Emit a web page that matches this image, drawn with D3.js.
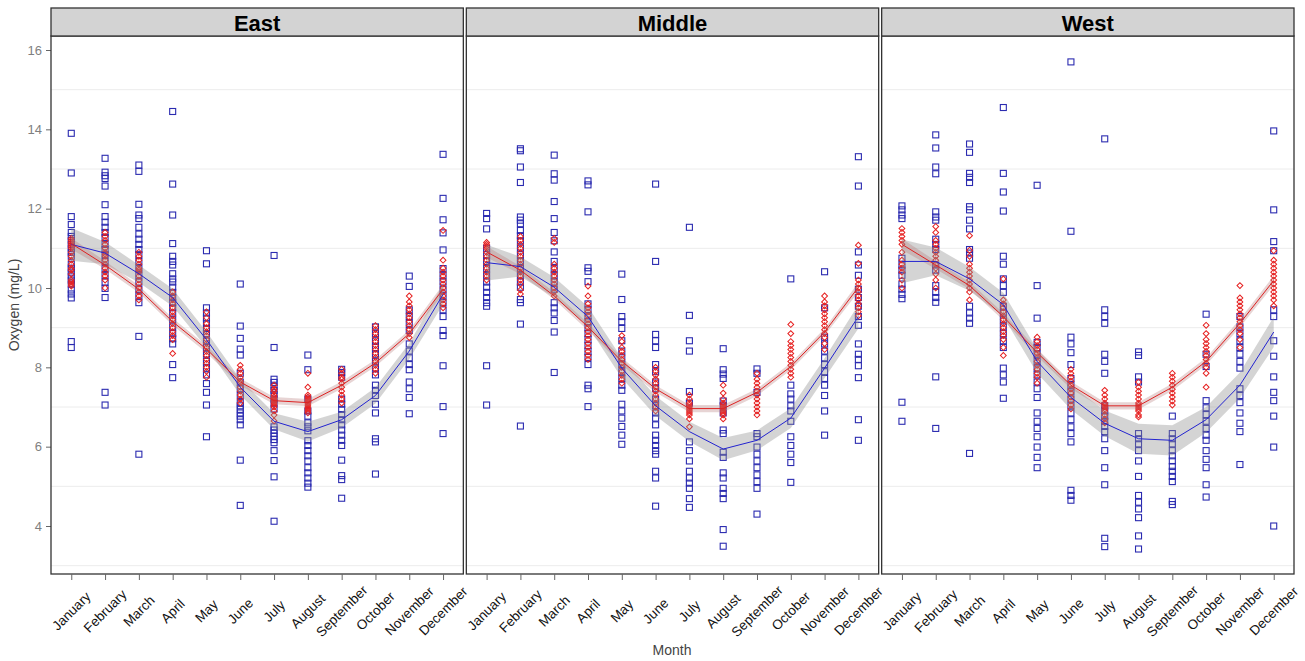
<!DOCTYPE html>
<html>
<head>
<meta charset="utf-8">
<script src="https://cdn.jsdelivr.net/npm/d3@7"></script>
<style>
  body { margin: 0; background: #fff; }
  text { font-family: "Liberation Sans", Arial, sans-serif; }
</style>
</head>
<body>
<svg id="chart" width="1305" height="661"></svg>
<script>
const months = ["January","February","March","April","May","June","July","August","September","October","November","December"];
const regions = ["East","Middle","West"];
const yTicks = [4, 6, 8, 10, 12, 14, 16];
const yGrid = [3, 5, 7, 9, 11, 13, 15];

// blue squares, one list per month
const eastBlue = [
  [13.9, 12.9, 11.8, 11.6, 11.4, 11.3, 11.2, 11.1, 11.0, 10.9, 10.8, 10.6, 10.5, 10.4, 10.3, 10.2, 10.1, 9.95, 9.85, 9.75, 8.65, 8.5],
  [13.27, 12.92, 12.83, 12.76, 12.57, 12.1, 11.8, 11.66, 11.53, 11.4, 11.27, 11.1, 10.97, 10.84, 10.67, 10.49, 10.32, 10.15, 9.99, 9.76, 7.37, 7.05],
  [13.1, 12.94, 12.11, 11.84, 11.75, 11.53, 11.36, 11.23, 11.1, 10.97, 10.84, 10.67, 10.49, 10.32, 10.15, 9.97, 9.8, 9.63, 8.78, 5.81],
  [14.45, 12.62, 11.84, 11.12, 10.8, 10.67, 10.58, 10.36, 10.23, 10.15, 10.02, 9.89, 9.76, 9.63, 9.5, 9.37, 9.2, 9.02, 8.85, 8.72, 8.59, 8.07, 7.74],
  [10.94, 10.61, 9.5, 9.37, 9.24, 9.11, 8.98, 8.85, 8.67, 8.5, 8.33, 8.15, 7.98, 7.81, 7.59, 7.37, 7.05, 6.25],
  [10.1, 9.04, 8.73, 8.46, 8.31, 7.85, 7.63, 7.46, 7.29, 7.11, 7.03, 6.94, 6.85, 6.77, 6.68, 6.55, 5.66, 4.52],
  [10.82, 8.5, 7.7, 7.62, 7.52, 7.42, 7.32, 7.2, 7.1, 6.95, 6.5, 6.42, 6.34, 6.26, 6.18, 6.1, 5.9, 5.65, 5.24, 4.12],
  [8.31, 7.94, 7.2, 6.9, 6.77, 6.6, 6.5, 6.4, 6.15, 6.03, 5.9, 5.77, 5.64, 5.47, 5.34, 5.21, 5.08, 4.98],
  [7.95, 7.87, 7.75, 7.2, 7.07, 6.94, 6.81, 6.68, 6.55, 6.42, 6.29, 6.16, 6.03, 5.66, 5.27, 5.17, 4.7],
  [9.02, 8.85, 8.67, 8.5, 8.33, 8.15, 7.98, 7.81, 7.55, 7.42, 7.29, 7.07, 6.85, 6.2, 6.12, 5.31],
  [10.3, 10.04, 9.45, 9.28, 9.11, 8.93, 8.59, 8.41, 8.24, 8.07, 7.94, 7.63, 7.46, 7.24, 6.83],
  [13.37, 12.26, 11.72, 11.39, 10.96, 10.49, 10.32, 10.15, 9.97, 9.8, 9.63, 9.45, 9.28, 8.93, 8.8, 8.04, 7.01, 6.33]
];
const middleBlue = [
  [11.88, 11.75, 11.49, 11.0, 10.84, 10.67, 10.49, 10.32, 10.15, 10.02, 9.89, 9.76, 9.63, 9.54, 8.04, 7.05],
  [13.51, 13.46, 13.05, 12.66, 11.79, 11.71, 11.62, 11.45, 11.32, 11.19, 11.01, 10.84, 10.67, 10.49, 10.32, 10.15, 10.02, 9.71, 9.63, 9.09, 6.52],
  [13.35, 12.88, 12.72, 12.18, 11.75, 11.4, 11.19, 10.91, 10.67, 10.49, 10.32, 10.15, 9.97, 9.63, 9.5, 9.37, 9.18, 8.89, 7.87],
  [12.7, 12.6, 11.92, 10.51, 10.42, 10.16, 9.6, 9.45, 9.3, 9.15, 9.0, 8.85, 8.7, 8.55, 8.4, 8.25, 8.07, 7.55, 7.46, 7.01],
  [10.35, 9.71, 9.28, 9.15, 8.98, 8.67, 8.41, 8.24, 8.07, 7.89, 7.72, 7.55, 7.42, 7.07, 6.9, 6.72, 6.51, 6.29, 6.06],
  [12.62, 10.67, 8.83, 8.67, 8.5, 8.07, 7.89, 7.63, 7.46, 7.2, 7.03, 6.85, 6.72, 6.55, 6.29, 6.16, 6.03, 5.9, 5.81, 5.38, 5.21, 4.5],
  [11.53, 9.31, 8.67, 8.41, 7.39, 7.1, 6.12, 5.9, 5.64, 5.38, 5.21, 5.08, 4.95, 4.69, 4.47],
  [8.47, 7.94, 7.83, 7.72, 7.15, 7.03, 6.85, 6.42, 6.33, 5.86, 5.73, 5.34, 5.21, 4.95, 4.82, 4.69, 3.91, 3.49],
  [7.96, 7.85, 7.37, 6.33, 6.25, 5.99, 5.81, 5.64, 5.47, 5.29, 5.12, 4.95, 4.3],
  [10.23, 7.55, 7.33, 7.2, 7.03, 6.9, 6.64, 6.25, 6.03, 5.81, 5.6, 5.1],
  [10.41, 9.5, 8.76, 8.59, 8.41, 8.24, 8.07, 7.89, 7.72, 7.55, 7.29, 6.9, 6.29],
  [13.31, 12.57, 10.91, 10.58, 10.32, 9.97, 9.76, 9.54, 9.28, 9.06, 8.59, 8.33, 8.2, 8.04, 7.74, 6.68, 6.16]
];
const westBlue = [
  [12.07, 11.97, 11.84, 11.75, 10.75, 10.58, 10.45, 10.32, 10.1, 9.97, 9.84, 9.73, 7.12, 6.64],
  [13.86, 13.53, 13.05, 12.88, 11.92, 11.79, 11.71, 11.23, 11.1, 10.97, 10.58, 10.45, 10.06, 9.89, 9.76, 9.64, 7.76, 6.46],
  [13.63, 13.42, 12.89, 12.79, 12.66, 12.05, 11.97, 11.71, 11.49, 10.97, 10.88, 10.75, 9.54, 9.37, 9.24, 9.11, 5.83],
  [14.55, 12.89, 12.42, 11.94, 10.8, 10.6, 10.23, 10.06, 9.89, 9.54, 9.37, 9.2, 9.02, 8.85, 8.67, 8.5, 7.98, 7.81, 7.63, 7.22],
  [12.59, 10.06, 9.24, 8.63, 8.5, 8.33, 8.15, 7.98, 7.81, 7.63, 7.46, 7.24, 6.85, 6.64, 6.46, 6.25, 5.99, 5.73, 5.47],
  [15.7, 11.43, 8.76, 8.59, 8.37, 8.07, 7.72, 7.55, 7.38, 7.2, 7.03, 6.85, 6.68, 6.5, 6.33, 6.12, 4.9, 4.77, 4.65],
  [13.76, 9.45, 9.28, 9.11, 8.33, 8.15, 7.85, 7.03, 6.9, 6.77, 6.64, 6.51, 6.38, 6.2, 5.9, 5.47, 5.04, 3.69, 3.48],
  [8.39, 8.3, 7.76, 7.63, 6.33, 6.2, 6.07, 5.9, 5.64, 5.25, 4.77, 4.6, 4.43, 4.21, 3.75, 3.42],
  [6.77, 6.33, 6.2, 6.07, 5.9, 5.77, 5.64, 5.5, 5.38, 5.25, 5.12, 4.62, 4.54],
  [9.34, 8.33, 8.02, 7.16, 6.98, 6.81, 6.64, 6.46, 6.29, 6.16, 5.9, 5.68, 5.47, 5.04, 4.73],
  [9.28, 9.02, 8.85, 8.67, 8.5, 8.33, 8.15, 7.98, 7.46, 7.29, 7.11, 6.85, 6.59, 6.38, 5.55],
  [13.96, 11.97, 11.17, 10.94, 9.45, 9.28, 8.67, 8.28, 7.76, 7.37, 7.16, 6.77, 5.99, 4.0]
];

// red diamonds, one list per month
const eastRed = [
  [11.25, 11.2, 11.15, 11.1, 11.05, 11.0, 10.9, 10.8, 10.7, 10.6, 10.5, 10.45, 10.35, 10.2, 10.15, 10.1, 10.05],
  [11.4, 11.3, 11.2, 11.1, 11.0, 10.9, 10.85, 10.8, 10.7, 10.6, 10.5, 10.4, 10.3, 10.2, 10.0],
  [10.9, 10.8, 10.7, 10.6, 10.5, 10.45, 10.4, 10.3, 10.2, 10.1, 10.0, 9.9, 9.8, 9.7],
  [9.9, 9.8, 9.7, 9.6, 9.5, 9.4, 9.3, 9.2, 9.1, 9.0, 8.9, 8.8, 8.7, 8.35],
  [9.4, 9.25, 9.1, 9.0, 8.9, 8.8, 8.7, 8.6, 8.5, 8.4, 8.3, 8.2, 8.1, 8.0, 7.9, 7.75],
  [8.05, 7.95, 7.85, 7.75, 7.65, 7.6, 7.5, 7.4, 7.3, 7.2, 7.1],
  [7.55, 7.45, 7.4, 7.3, 7.25, 7.2, 7.15, 7.1, 7.05, 7.0, 6.9, 6.8, 6.65],
  [7.85, 7.5, 7.3, 7.25, 7.2, 7.15, 7.1, 7.05, 7.0, 6.95, 6.9, 6.85],
  [7.95, 7.85, 7.75, 7.7, 7.6, 7.5, 7.4, 7.3, 7.2, 7.1],
  [9.05, 8.95, 8.85, 8.75, 8.65, 8.55, 8.45, 8.35, 8.25, 8.15, 8.05, 7.95, 7.85],
  [9.8, 9.65, 9.55, 9.45, 9.35, 9.25, 9.15, 9.05, 8.95, 8.85, 8.75],
  [11.45, 10.7, 10.5, 10.4, 10.3, 10.2, 10.1, 10.0, 9.9, 9.8, 9.7, 9.6, 9.5]
];
const middleRed = [
  [11.15, 11.1, 11.05, 11.0, 10.9, 10.8, 10.7, 10.6, 10.5, 10.4, 10.3, 10.2],
  [11.3, 11.2, 11.1, 11.0, 10.9, 10.8, 10.7, 10.6, 10.5, 10.4, 10.3, 10.2, 10.1, 9.95, 9.85],
  [11.25, 11.15, 10.6, 10.5, 10.4, 10.3, 10.2, 10.1, 10.0, 9.9, 9.8],
  [10.05, 9.8, 9.6, 9.5, 9.4, 9.3, 9.2, 9.1, 9.0, 8.9, 8.8, 8.7, 8.6, 8.5, 8.4, 8.3, 8.2],
  [8.8, 8.65, 8.5, 8.4, 8.3, 8.2, 8.1, 8.0, 7.9, 7.8, 7.7, 7.6],
  [8.0, 7.9, 7.8, 7.7, 7.6, 7.5, 7.4, 7.3, 7.2, 7.1, 7.0, 6.9],
  [7.3, 7.2, 7.1, 7.05, 7.0, 6.95, 6.9, 6.85, 6.8, 6.7, 6.5],
  [7.55, 7.35, 7.2, 7.1, 7.05, 7.0, 6.95, 6.9, 6.85, 6.8, 6.7],
  [7.85, 7.7, 7.6, 7.5, 7.4, 7.3, 7.2, 7.1, 7.0, 6.9, 6.8],
  [9.08, 8.85, 8.65, 8.55, 8.45, 8.35, 8.25, 8.15, 8.05, 7.95, 7.85, 7.75],
  [9.8, 9.65, 9.55, 9.45, 9.35, 9.25, 9.15, 9.05, 8.95, 8.85, 8.75, 8.6, 8.45],
  [11.08, 10.62, 10.2, 10.1, 10.0, 9.9, 9.8, 9.7, 9.6, 9.5, 9.4, 9.3]
];
const westRed = [
  [11.5, 11.4, 11.3, 11.2, 11.1, 10.9, 10.7, 10.6, 10.5, 10.4, 10.2, 10.0],
  [11.55, 11.4, 11.2, 11.1, 11.0, 10.9, 10.8, 10.7, 10.6, 10.5, 10.35, 10.2, 10.0],
  [11.32, 10.95, 10.8, 10.6, 10.5, 10.4, 10.3, 10.2, 10.1, 10.0, 9.9, 9.7],
  [10.23, 9.7, 9.6, 9.5, 9.4, 9.3, 9.2, 9.1, 9.0, 8.9, 8.8, 8.7, 8.5, 8.3],
  [8.76, 8.65, 8.55, 8.45, 8.35, 8.25, 8.15, 8.05, 7.95, 7.85, 7.75, 7.6],
  [7.95, 7.85, 7.75, 7.65, 7.55, 7.45, 7.35, 7.25, 7.15, 7.05, 6.95],
  [7.42, 7.3, 7.2, 7.1, 7.05, 7.0, 6.95, 6.9, 6.8, 6.7, 6.6],
  [7.63, 7.5, 7.4, 7.3, 7.2, 7.1, 7.05, 7.0, 6.95, 6.9, 6.8, 6.75],
  [7.85, 7.75, 7.65, 7.55, 7.45, 7.35, 7.25, 7.15, 7.05],
  [9.06, 8.85, 8.7, 8.6, 8.5, 8.4, 8.3, 8.2, 8.1, 8.0, 7.85, 7.5],
  [10.06, 9.75, 9.65, 9.55, 9.45, 9.35, 9.25, 9.15, 9.05, 8.95, 8.85, 8.7, 8.5],
  [10.94, 10.7, 10.6, 10.5, 10.4, 10.3, 10.2, 10.1, 10.0, 9.9, 9.8, 9.7, 9.55]
];

// smoothed lines and half width of their bands
const eastBlueFit  = [11.1, 10.88, 10.36, 9.76, 8.7, 7.5, 6.64, 6.38, 6.68, 7.29, 8.41, 9.84];
const eastBlueBand = [0.41, 0.28, 0.22, 0.22, 0.2, 0.2, 0.2, 0.25, 0.2, 0.2, 0.2, 0.25];
const eastRedFit   = [11.12, 10.58, 9.97, 9.15, 8.46, 7.63, 7.16, 7.11, 7.55, 8.11, 8.85, 9.97];
const eastRedBand  = [0.14, 0.1, 0.09, 0.09, 0.09, 0.09, 0.09, 0.09, 0.09, 0.09, 0.09, 0.12];
const middleBlueFit  = [10.64, 10.54, 10.02, 9.28, 7.98, 7.03, 6.38, 5.94, 6.16, 6.72, 7.98, 9.28];
const middleBlueBand = [0.45, 0.25, 0.25, 0.25, 0.25, 0.25, 0.25, 0.28, 0.25, 0.25, 0.25, 0.3];
const middleRedFit   = [10.91, 10.45, 9.8, 9.02, 8.15, 7.46, 6.96, 6.96, 7.37, 8.02, 8.89, 10.02];
const middleRedBand  = [0.14, 0.1, 0.09, 0.09, 0.09, 0.09, 0.09, 0.09, 0.09, 0.09, 0.09, 0.12];
const westBlueFit  = [10.67, 10.67, 10.23, 9.58, 8.15, 7.24, 6.59, 6.2, 6.16, 6.68, 7.55, 8.89];
const westBlueBand = [0.55, 0.35, 0.3, 0.3, 0.3, 0.3, 0.32, 0.38, 0.38, 0.32, 0.32, 0.38];
const westRedFit   = [11.1, 10.58, 10.06, 9.28, 8.37, 7.55, 7.03, 7.03, 7.5, 8.15, 9.11, 10.19];
const westRedBand  = [0.14, 0.1, 0.09, 0.09, 0.09, 0.09, 0.09, 0.09, 0.09, 0.09, 0.1, 0.12];

const panels = [
  {name: "East", blue: eastBlue, red: eastRed, bFit: eastBlueFit, bBand: eastBlueBand, rFit: eastRedFit, rBand: eastRedBand},
  {name: "Middle", blue: middleBlue, red: middleRed, bFit: middleBlueFit, bBand: middleBlueBand, rFit: middleRedFit, rBand: middleRedBand},
  {name: "West", blue: westBlue, red: westRed, bFit: westBlueFit, bBand: westBlueBand, rFit: westRedFit, rBand: westRedBand}
];

var svg = d3.select("#chart");

var panelX = d3.scaleBand().domain(regions).range([51, 1294]).paddingInner(0.0072);
var plotTop = 36, plotBottom = 574, stripTop = 8;
var y = d3.scaleLinear().domain([2.79, 16.353]).range([plotBottom, plotTop]);

// y axis (only left)
var yAxis = svg.append("g").attr("transform", "translate(51,0)")
    .call(d3.axisLeft(y).tickValues(yTicks).tickSize(5).tickPadding(4));
yAxis.select(".domain").remove();
yAxis.selectAll("line").attr("stroke", "#666");
yAxis.selectAll("text").attr("fill", "#7f7f7f").style("font-size", "13px").style("font-family", "Liberation Sans, Arial, sans-serif");

panels.forEach(function (p) {
    var x0 = panelX(p.name), w = panelX.bandwidth();
    var x = d3.scalePoint().domain(months).range([x0, x0 + w]).padding(0.6);
    var g = svg.append("g");

    // grid
    g.selectAll(".grid").data(yGrid).join("line")
        .attr("x1", x0).attr("x2", x0 + w)
        .attr("y1", d => y(d)).attr("y2", d => y(d))
        .attr("stroke", "#ececec").attr("stroke-width", 1);

    // points
    var bluePts = [], redPts = [];
    p.blue.forEach((vals, i) => vals.forEach(v => bluePts.push([months[i], v])));
    p.red.forEach((vals, i) => vals.forEach(v => redPts.push([months[i], v])));

    g.selectAll(".sq").data(bluePts).join("rect")
        .attr("x", d => x(d[0]) - 3).attr("y", d => y(d[1]) - 3)
        .attr("width", 6).attr("height", 6)
        .attr("fill", "none").attr("stroke", "#2b2bb0").attr("stroke-width", 1.1);

    var diamond = d3.symbol().type(d3.symbolSquare).size(17);
    g.selectAll(".dm").data(redPts).join("path")
        .attr("d", diamond)
        .attr("transform", d => `translate(${x(d[0])},${y(d[1])}) rotate(45)`)
        .attr("fill", "none").attr("stroke", "#e62020").attr("stroke-width", 1);

    // bands and lines
    var idx = d3.range(months.length);
    var area = (fit, band) => d3.area()
        .x(i => x(months[i]))
        .y0(i => y(fit[i] - band[i]))
        .y1(i => y(fit[i] + band[i]))(idx);
    var line = fit => d3.line().x(i => x(months[i])).y(i => y(fit[i]))(idx);

    g.append("path").attr("d", area(p.bFit, p.bBand))
        .attr("fill", "#8f8f8f").attr("fill-opacity", 0.38);
    g.append("path").attr("d", area(p.rFit, p.rBand))
        .attr("fill", "#b07070").attr("fill-opacity", 0.3);
    g.append("path").attr("d", line(p.bFit))
        .attr("fill", "none").attr("stroke", "#2323d0").attr("stroke-width", 1);
    g.append("path").attr("d", line(p.rFit))
        .attr("fill", "none").attr("stroke", "#dd2222").attr("stroke-width", 1);

    // panel border
    g.append("rect").attr("x", x0).attr("y", plotTop).attr("width", w).attr("height", plotBottom - plotTop)
        .attr("fill", "none").attr("stroke", "#333").attr("stroke-width", 1.3);

    // strip
    g.append("rect").attr("x", x0).attr("y", stripTop).attr("width", w).attr("height", plotTop - stripTop)
        .attr("fill", "#d3d3d3").attr("stroke", "#333").attr("stroke-width", 1.3);
    g.append("text").attr("x", x0 + w / 2).attr("y", 31)
        .attr("text-anchor", "middle").style("font-size", "22px").style("font-weight", "bold")
        .attr("fill", "#000").text(p.name);

    // x axis
    var xa = svg.append("g").attr("transform", `translate(0,${plotBottom})`)
        .call(d3.axisBottom(x).tickSize(6).tickFormat(""));
    xa.select(".domain").remove();
    xa.selectAll("line").attr("stroke", "#666");
    svg.append("g").selectAll("text").data(months).join("text")
        .attr("transform", d => `translate(${x(d)},611) rotate(-45)`)
        .attr("text-anchor", "middle").attr("dy", "0.35em")
        .style("font-size", "13.5px").attr("fill", "#111").text(d => d);
});

svg.append("text").attr("transform", "translate(19,305) rotate(-90)")
    .attr("text-anchor", "middle").style("font-size", "14px").attr("fill", "#444")
    .text("Oxygen (mg/L)");
svg.append("text").attr("x", 672).attr("y", 655)
    .attr("text-anchor", "middle").style("font-size", "14px").attr("fill", "#444")
    .text("Month");
</script>
</body>
</html>
